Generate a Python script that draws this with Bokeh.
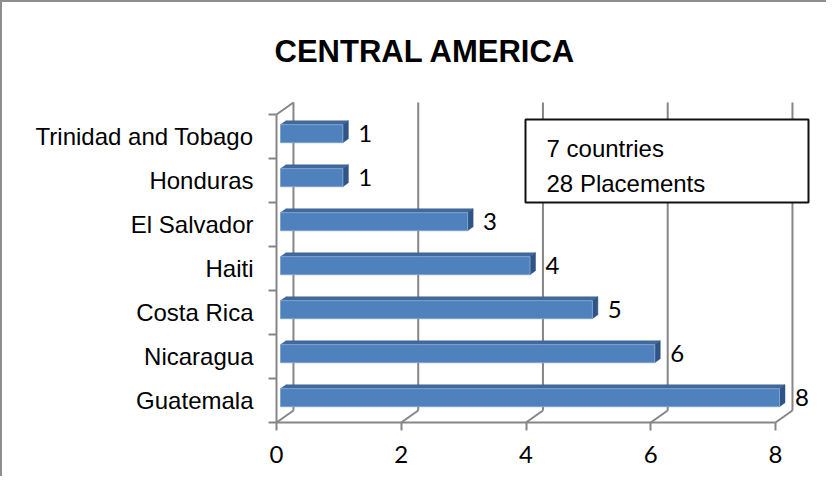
from bokeh.plotting import figure
from bokeh.models import FixedTicker, Range1d, ColumnDataSource
from bokeh.core.properties import value
from bokeh.embed import file_html
from bokeh.resources import INLINE

# ---------------- data ----------------
categories = ["Guatemala", "Nicaragua", "Costa Rica", "Haiti",
              "El Salvador", "Honduras", "Trinidad and Tobago"]
placements = [8, 6, 5, 4, 3, 1, 1]
x_ticks = [0, 2, 4, 6, 8]
note_lines = ["7 countries", "28 Placements"]
title_text = "CENTRAL AMERICA"

# ---------------- style constants ----------------
DX, DY = 0.272, 0.273          # depth of the 3-D box (data units)
F_FRONT, F_BACK = 0.235, 0.56  # bar depth fractions
HALF_H = 0.205                 # half height of bar front face
GRID = "#868686"
FRONT = "#4f81bd"
TOP = "#41699b"
SIDE = "#2f5587"

p = figure(width=826, height=476, output_backend="svg", toolbar_location=None,
           x_range=Range1d(-0.03206, 8.8176), y_range=Range1d(-0.6818, 7.0),
           min_border_left=272, min_border_right=2, min_border_top=90,
           min_border_bottom=48, x_axis_location="below")
p.styles = {"border-left": "2px solid #8e8e8e", "border-top": "2px solid #8e8e8e"}
p.outline_line_color = None
p.grid.visible = False
p.background_fill_color = "white"
p.border_fill_color = "white"

# title
p.title.text = title_text
p.title.text_font = "Liberation Sans"
p.title.text_font_style = "bold"
p.title.text_font_size = "31px"
p.title.text_color = "black"
p.title.align = "left"
p.title.offset = 0
p.title.standoff = 47

# x axis
xa = p.xaxis[0]
xa.ticker = FixedTicker(ticks=x_ticks)
xa.axis_line_color = None
xa.major_tick_in = 8
xa.major_tick_out = 0
xa.major_tick_line_color = GRID
xa.major_tick_line_width = 2
xa.minor_tick_line_color = None
xa.major_label_text_font = "Lato"
xa.major_label_text_font_size = "24px"
xa.major_label_text_color = "black"
xa.major_label_standoff = 15

# y axis (categories)
n = len(categories)
ya = p.yaxis[0]
ya.ticker = FixedTicker(ticks=list(range(n)), minor_ticks=[i - 0.5 for i in range(n + 1)])
ya.major_label_overrides = {i: c for i, c in enumerate(categories)}
ya.axis_line_color = None
ya.major_tick_line_color = None
ya.major_tick_in = 0
ya.major_tick_out = 0
ya.minor_tick_in = 2
ya.minor_tick_out = 6
ya.minor_tick_line_color = GRID
ya.minor_tick_line_width = 2
ya.major_label_text_font = "Liberation Sans"
ya.major_label_text_font_size = "24px"
ya.major_label_text_color = "black"
ya.major_label_standoff = 15

lo, hi = -0.5, n - 0.5

# back wall gridlines
gx = [[t + DX, t + DX] for t in x_ticks]
gy = [[lo + DY, hi + DY] for t in x_ticks]
p.multi_line(gx, gy, line_color=GRID, line_width=2)
# floor diagonals
p.multi_line([[t, t + DX] for t in x_ticks], [[lo, lo + DY] for t in x_ticks],
             line_color=GRID, line_width=2)
# front baseline
p.line([x_ticks[0], x_ticks[-1]], [lo, lo], line_color=GRID, line_width=2)
# left wall front line and top diagonal
p.line([0, 0], [lo, hi], line_color=GRID, line_width=2)
p.line([0, DX], [hi, hi + DY], line_color=GRID, line_width=2)

# note box
p.quad(left=3.992, right=8.529, bottom=4.5, top=6.386,
       fill_color="white", line_color="#111111", line_width=2)
p.text(x=[4.329, 4.329], y=[5.728, 4.932], text=note_lines,
       text_font=value("Liberation Sans"), text_font_size="24px",
       text_baseline="alphabetic", text_align="left", text_color="black")

# bars (3-D)
fx0, fy0 = F_FRONT * DX, F_FRONT * DY
bx0, by0 = F_BACK * DX, F_BACK * DY
front_l, front_r, front_b, front_t = [], [], [], []
top_xs, top_ys, side_xs, side_ys = [], [], [], []
for i, v in enumerate(placements):
    l, r = 0 + fx0, v + fx0
    b, t = i + fy0 - HALF_H, i + fy0 + HALF_H
    ddx, ddy = bx0 - fx0, by0 - fy0
    front_l.append(l); front_r.append(r); front_b.append(b); front_t.append(t)
    top_xs.append([l, r, r + ddx, l + ddx])
    top_ys.append([t, t, t + ddy, t + ddy])
    side_xs.append([r, r, r + ddx, r + ddx])
    side_ys.append([b, t, t + ddy, b + ddy])

p.patches(top_xs, top_ys, fill_color=TOP, line_color=TOP, line_width=0.5)
p.patches(side_xs, side_ys, fill_color=SIDE, line_color=SIDE, line_width=0.5)
p.quad(left=front_l, right=front_r, bottom=front_b, top=front_t,
       fill_color=FRONT, line_color="#7ea3d0", line_width=1)

# value labels
lab = ColumnDataSource(dict(
    x=[v + bx0 + 0.16 for v in placements],
    y=[i + fy0 for i in range(n)],
    t=[str(v) for v in placements]))
p.text(x="x", y="y", text="t", source=lab, text_font=value("Lato"),
       text_font_size="24px", text_baseline="middle", text_align="left",
       text_color="black")

open("out.html", "w").write(file_html(p, INLINE))
